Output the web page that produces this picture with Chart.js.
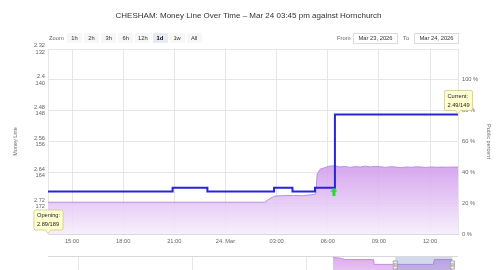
<!DOCTYPE html>
<html><head><meta charset="utf-8">
<script src="https://cdn.jsdelivr.net/npm/chart.js@4"></script>
<style>
html,body{margin:0;padding:0;width:500px;height:270px;overflow:hidden;background:#fff;font-family:"Liberation Sans",Arial,sans-serif;}
#main{position:absolute;left:0;top:0;}
#nav{position:absolute;left:0;top:256px;}
#title{position:absolute;left:0;width:497px;top:11px;text-align:center;font-size:8px;color:#333;white-space:nowrap;}
#ui{position:absolute;left:0;top:0;width:500px;height:50px;will-change:transform;transform:translateZ(0);background:transparent;}
.btn{position:absolute;top:33px;width:15px;height:10px;line-height:10px;text-align:center;font-size:5.8px;color:#333;background:#f7f7f7;border-radius:1px;}
.btn.sel{background:#e6ebf5;font-weight:bold;color:#000;}
.inp{position:absolute;top:33px;height:9px;width:43px;border:1px solid #ddd;font-size:5.8px;line-height:9px;text-align:center;color:#333;background:#fff;}
.lbl{position:absolute;top:33px;line-height:10px;font-size:5.8px;color:#666;}
</style></head><body>
<canvas id="main" width="500" height="256"></canvas>
<canvas id="nav" width="500" height="40"></canvas>
<div id="ui">
<div id="title">CHESHAM: Money Line Over Time – Mar 24 03:45 pm against Hornchurch</div>
<div class="lbl" style="left:49px">Zoom</div>
<div id="buttons"></div>
<div class="lbl" style="left:337px">From</div>
<div class="inp" style="left:353px">Mar 23, 2026</div>
<div class="lbl" style="left:403px">To</div>
<div class="inp" style="left:414px">Mar 24, 2026</div>
</div>
<script>
// ---- data (time in hours since Mar 23 00:00) ----
const xMin = 13.59, xMax = 37.64;
const moneyTimes = [13.59, 20.9, 22.94, 26.85, 27.93, 29.25, 30.42, 37.64];
const moneyOdds  = [2.69, 2.68, 2.69, 2.68, 2.69, 2.68, 2.49, 2.49];
const pctTimes  = [13.59, 26.3, 26.6, 26.9, 27.5, 28.0, 28.5, 28.9, 29.2, 29.3, 29.38, 29.55, 29.8, 30.1, 30.4, 30.7, 31.0, 31.3, 31.6, 31.9, 32.2, 32.5, 32.8, 33.1, 33.4, 33.7, 34.0, 34.3, 34.6, 34.9, 35.2, 35.5, 35.8, 36.1, 36.4, 36.7, 37.0, 37.3, 37.64];
const pctValues = [20.6, 20.6, 23.0, 24.6, 24.9, 25.0, 24.8, 25.3, 25.6, 26.0, 39.0, 42.0, 43.0, 44.0, 44.3, 43.5, 43.8, 43.2, 43.7, 43.4, 44.0, 43.5, 43.9, 43.6, 43.2, 43.7, 43.4, 43.0, 43.5, 43.3, 43.6, 43.4, 43.2, 43.5, 43.3, 43.4, 43.3, 43.4, 43.4];
const moneyTicks = [2.32, 2.40, 2.48, 2.56, 2.64, 2.72];
const pctTicks = [0, 20, 40, 60, 80, 100];
const timeTicks = [15, 18, 21, 24, 27, 30, 33, 36];
const timeLabels = ['15:00', '18:00', '21:00', '24. Mar', '03:00', '06:00', '09:00', '12:00'];
const openingLabel = ['Opening:', '2.89/189'];
const openingOdds = 2.89;
const currentLabel = ['Current:', '2.49/149'];
const arrowTimes = [30.36];
const arrowOdds = [2.69];
const zoomButtons = ['1h', '2h', '3h', '6h', '12h', '1d', '1w', 'All'];
const selectedZoom = '1d';
// navigator
const navMin = -3.27, navMax = 40.0;
const navTimes  = [26.8, 27.5, 28.1, 31.1, 31.15, 37.4, 37.5, 39.4];
const navValues = [96, 95, 91, 91, 79, 79, 91, 91];
const navGridHours = [0, 12, 24];
const navMask = [33.37, 39.4];

const FONT = '"Liberation Sans", Arial, sans-serif';

// buttons
const bwrap = document.getElementById('buttons');
zoomButtons.forEach((b, i) => {
  const d = document.createElement('div');
  d.className = 'btn' + (b === selectedZoom ? ' sel' : '');
  d.style.left = (67 + i * 17.1) + 'px';
  d.textContent = b;
  bwrap.appendChild(d);
});

// arrow point style
function makeArrow() {
  const c = document.createElement('canvas');
  c.width = 7; c.height = 8;
  const g = c.getContext('2d');
  g.fillStyle = '#22dd22';
  g.beginPath();
  g.moveTo(3.5, 0); g.lineTo(7, 4); g.lineTo(5, 4); g.lineTo(5, 8); g.lineTo(2, 8); g.lineTo(2, 4); g.lineTo(0, 4);
  g.closePath(); g.fill();
  return c;
}

function drawTip(ctx, px, py, lines) {
  ctx.save();
  ctx.font = '5.7px ' + FONT;
  const w = Math.max(...lines.map(l => ctx.measureText(l).width)) + 6;
  const h = 20;
  const bx = px - w / 2 + 0.5, by = py - 4 - h;
  ctx.beginPath();
  ctx.moveTo(bx + 1.5, by);
  ctx.lineTo(bx + w - 1.5, by);
  ctx.quadraticCurveTo(bx + w, by, bx + w, by + 1.5);
  ctx.lineTo(bx + w, by + h - 1.5);
  ctx.quadraticCurveTo(bx + w, by + h, bx + w - 1.5, by + h);
  ctx.lineTo(px + 2.5, by + h);
  ctx.lineTo(px, py - 0.5);
  ctx.lineTo(px - 2.5, by + h);
  ctx.lineTo(bx + 1.5, by + h);
  ctx.quadraticCurveTo(bx, by + h, bx, by + h - 1.5);
  ctx.lineTo(bx, by + 1.5);
  ctx.quadraticCurveTo(bx, by, bx + 1.5, by);
  ctx.closePath();
  ctx.fillStyle = 'rgba(255,255,206,0.97)';
  ctx.fill();
  ctx.strokeStyle = '#cfc68a';
  ctx.lineWidth = 0.8;
  ctx.stroke();
  ctx.fillStyle = '#222';
  ctx.textBaseline = 'middle';
  ctx.textAlign = 'left';
  ctx.fillText(lines[0], bx + 3, by + 5.5);
  ctx.fillText(lines[1], bx + 3, by + 14.5);
  ctx.restore();
}

const tipPlugin = {
  id: 'tips',
  afterDraw(chart) {
    const x = chart.scales.x, y = chart.scales.yMoney, area = chart.chartArea;
    const ctx = chart.ctx;
    const ox = x.getPixelForValue(moneyTimes[0]);
    const oy = Math.min(y.getPixelForValue(openingOdds), area.bottom);
    drawTip(ctx, ox, oy, openingLabel);
    const n = moneyTimes.length - 1;
    drawTip(ctx, x.getPixelForValue(moneyTimes[n]), y.getPixelForValue(moneyOdds[n]), currentLabel);
  }
};

const tickFont = { family: FONT, size: 5.7 };
const grey = '#666';

new Chart(document.getElementById('main'), {
  type: 'line',
  data: {
    datasets: [
      {
        data: arrowTimes.map((t, i) => ({ x: t, y: arrowOdds[i] })),
        yAxisID: 'yMoney', showLine: false,
        pointStyle: makeArrow(), pointRadius: 4
      },
      {
        data: moneyTimes.map((t, i) => ({ x: t, y: moneyOdds[i] })),
        yAxisID: 'yMoney', stepped: true,
        borderColor: '#2626d8', borderWidth: 2, pointRadius: 0, fill: false
      },
      {
        data: pctTimes.map((t, i) => ({ x: t, y: pctValues[i] })),
        yAxisID: 'yPct',
        borderColor: '#b590e2', borderWidth: 1, pointRadius: 0, tension: 0,
        fill: 'origin',
        backgroundColor: (c) => {
          const ch = c.chart, a = ch.chartArea;
          if (!a) return 'rgba(220,180,240,0.6)';
          const yp = ch.scales.yPct;
          const g = ch.ctx.createLinearGradient(0, yp.getPixelForValue(48), 0, a.bottom);
          g.addColorStop(0, 'rgba(205,145,235,0.85)');
          g.addColorStop(1, 'rgba(246,238,251,0.9)');
          return g;
        }
      }
    ]
  },
  options: {
    responsive: false, animation: false, devicePixelRatio: 1,
    layout: { padding: { top: 49, left: 0, right: 0, bottom: 0 }, autoPadding: false },
    plugins: { legend: { display: false }, tooltip: { enabled: false }, title: { display: false } },
    scales: {
      x: {
        type: 'linear', min: xMin, max: xMax,
        afterBuildTicks: (s) => { s.ticks = timeTicks.map(v => ({ value: v })); },
        afterFit: (s) => { s.height = 22; },
        grid: { color: '#e6e6e6', drawTicks: false },
        border: { color: '#dadada' },
        ticks: {
          autoSkip: false, maxRotation: 0, padding: 4, color: grey, font: tickFont,
          callback: (v) => { const i = timeTicks.indexOf(v); return i >= 0 ? timeLabels[i] : ''; }
        }
      },
      yMoney: {
        position: 'left', reverse: true, min: 2.32, max: 2.80,
        afterBuildTicks: (s) => { s.ticks = moneyTicks.map(v => ({ value: v })); },
        afterFit: (s) => { s.width = 48; },
        grid: { color: '#e6e6e6', drawTicks: false },
        border: { color: '#e6e6e6' },
        ticks: {
          autoSkip: false, padding: 3, color: grey, font: { family: FONT, size: 5.7, lineHeight: 1.1 },
          callback: (v) => { const d = Math.round(v * 100) / 100; return [String(d), String(Math.round((d - 1) * 100))]; }
        },
        title: { display: true, text: 'Money Line', color: grey, font: { family: FONT, size: 5.5 }, padding: { top: 12 } }
      },
      yPct: {
        position: 'right', min: 0, max: 120,
        afterBuildTicks: (s) => { s.ticks = pctTicks.map(v => ({ value: v })); },
        afterFit: (s) => { s.width = 42; },
        grid: { display: false, drawTicks: false },
        border: { color: '#e6e6e6' },
        ticks: { autoSkip: false, padding: 4, color: grey, font: tickFont, callback: (v) => v + ' %' },
        title: { display: true, text: 'Public percent', color: grey, font: { family: FONT, size: 5.5 }, padding: { top: 8 } }
      }
    }
  },
  plugins: [tipPlugin]
});

// ---- navigator ----
const navPlugin = {
  id: 'navdeco',
  beforeDatasetsDraw(chart) {
    const a = chart.chartArea, ctx = chart.ctx;
    ctx.save();
    ctx.strokeStyle = '#d9d9d9'; ctx.lineWidth = 1;
    ctx.beginPath(); ctx.moveTo(a.left, a.top + 0.5); ctx.lineTo(a.right, a.top + 0.5); ctx.stroke();
    ctx.restore();
  },
  afterDraw(chart) {
    const a = chart.chartArea, ctx = chart.ctx, x = chart.scales.x;
    const x0 = x.getPixelForValue(navMask[0]), x1 = x.getPixelForValue(navMask[1]);
    ctx.save();
    ctx.fillStyle = 'rgba(102,133,194,0.3)';
    ctx.fillRect(x0, a.top + 1, x1 - x0, a.bottom - a.top);
    [x0, x1].forEach(px => {
      ctx.fillStyle = '#f2f2f2'; ctx.strokeStyle = '#999'; ctx.lineWidth = 0.8;
      ctx.fillRect(px - 2, a.top + 5, 4, 8);
      ctx.strokeRect(px - 2, a.top + 5, 4, 8);
      ctx.beginPath(); ctx.moveTo(px - 0.5, a.top + 7); ctx.lineTo(px - 0.5, a.top + 11);
      ctx.moveTo(px + 0.8, a.top + 7); ctx.lineTo(px + 0.8, a.top + 11); ctx.stroke();
    });
    ctx.restore();
  }
};

new Chart(document.getElementById('nav'), {
  type: 'line',
  data: {
    datasets: [{
      data: navTimes.map((t, i) => ({ x: t, y: navValues[i] })),
      borderColor: '#c28de0', borderWidth: 1, pointRadius: 0, fill: 'origin',
      backgroundColor: (c) => {
        const ch = c.chart, a = ch.chartArea;
        if (!a) return 'rgba(220,170,240,0.6)';
        const g = ch.ctx.createLinearGradient(0, a.top, 0, a.bottom);
        g.addColorStop(0, 'rgba(218,160,236,0.9)');
        g.addColorStop(1, 'rgba(246,238,251,0.9)');
        return g;
      }
    }]
  },
  options: {
    responsive: false, animation: false, devicePixelRatio: 1,
    layout: { padding: { top: 0, left: 48, right: 42, bottom: 0 }, autoPadding: false },
    plugins: { legend: { display: false }, tooltip: { enabled: false } },
    scales: {
      x: {
        type: 'linear', min: navMin, max: navMax,
        afterBuildTicks: (s) => { s.ticks = navGridHours.map(v => ({ value: v })); },
        afterFit: (s) => { s.height = 0; },
        grid: { color: '#e6e6e6', drawTicks: false },
        border: { display: false },
        ticks: { display: false }
      },
      y: { display: false, min: 0, max: 100 }
    }
  },
  plugins: [navPlugin]
});
</script>
</body></html>
